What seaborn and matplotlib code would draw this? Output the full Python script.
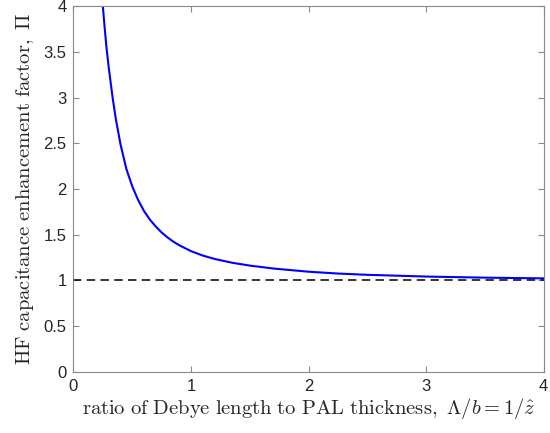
import matplotlib
matplotlib.use("Agg")
import matplotlib.pyplot as plt
import seaborn as sns
import pandas as pd

# Enhancement factor versus Debye-length / PAL-thickness ratio
ratio = [0.25, 0.265, 0.28, 0.30, 0.333, 0.36, 0.40, 0.45, 0.50, 0.55,
         0.60, 0.65, 0.70, 0.75, 0.80, 0.85, 0.90, 1.00, 1.10, 1.20,
         1.35, 1.50, 1.70, 2.00, 2.25, 2.50, 3.00, 3.50, 4.00]
factor = [4.0, 3.77, 3.56, 3.33, 3.0, 2.77, 2.49, 2.22, 2.03, 1.88,
          1.76, 1.665, 1.59, 1.525, 1.47, 1.424, 1.385, 1.32, 1.272, 1.235,
          1.193, 1.162, 1.13, 1.095, 1.075, 1.061, 1.042, 1.030, 1.022]
baseline = 1.0

x_ticks = [0, 1, 2, 3, 4]
y_ticks = [0, 0.5, 1, 1.5, 2, 2.5, 3, 3.5, 4]
y_ticklabels = ["0", "0.5", "1", "1.5", "2", "2.5", "3", "3.5", "4"]

sns.set_theme(style="white")
plt.rcParams["font.family"] = ["Liberation Sans", "DejaVu Sans"]
plt.rcParams["mathtext.fontset"] = "cm"

df = pd.DataFrame({"ratio": ratio, "factor": factor})

fig = plt.figure(figsize=(5.5, 4.33), dpi=100)
ax = fig.add_axes([0.1336, 0.1416, 0.855, 0.8434])

sns.lineplot(data=df, x="ratio", y="factor", ax=ax, color=(0, 0, 1),
             linewidth=1.5, sort=False, estimator=None)
ax.axhline(baseline, color="black", linewidth=1.1, dashes=(5.5, 3.5))

ax.set_xlim(0, 4)
ax.set_ylim(0, 4)
ax.set_xticks(x_ticks)
ax.set_xticklabels([str(t) for t in x_ticks])
ax.set_yticks(y_ticks)
ax.set_yticklabels(y_ticklabels)

axis_grey = "#262626"
for side in ["left", "right", "top", "bottom"]:
    ax.spines[side].set_visible(True)
    ax.spines[side].set_color("#8a8a8a")
    ax.spines[side].set_linewidth(0.8)
ax.tick_params(axis="both", which="both", direction="in", length=4,
               width=0.8, color="#8a8a8a", labelsize=12, labelcolor=axis_grey,
               top=True, right=True, bottom=True, left=True, pad=5)

ax.set_xlabel(r"$\mathrm{ratio\ of\ Debye\ length\ to\ PAL\ thickness,}\ \Lambda/b = 1/\hat{z}$",
              fontsize=14.8, color=axis_grey, labelpad=2)
ax.set_ylabel(r"$\mathrm{HF\ capacitance\ enhancement\ factor,}\ \Pi$",
              fontsize=14.8, color=axis_grey, labelpad=5)

fig.savefig("out.png", dpi=100)
